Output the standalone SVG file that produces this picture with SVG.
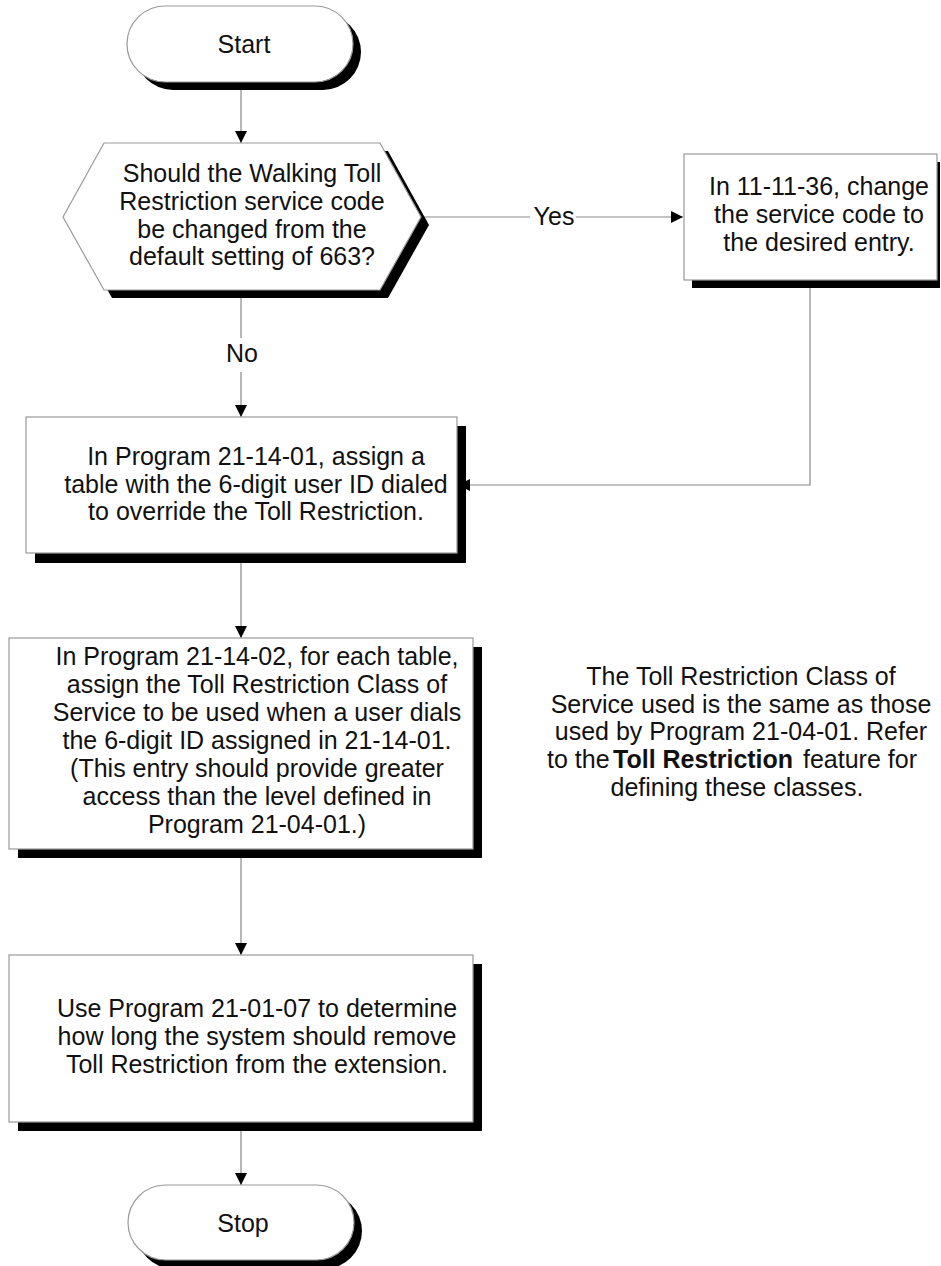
<svg xmlns="http://www.w3.org/2000/svg" width="941" height="1266" viewBox="0 0 941 1266">
<defs>
<style>
.t{font-family:"Liberation Sans",Arial,Helvetica,sans-serif;font-size:25px;fill:#111;}
.m{text-anchor:middle;}
.b{font-weight:bold;}
.sh{fill:#000;stroke:none;}
.nd{fill:#fff;stroke:#999;stroke-width:1.2;}
.cn{fill:none;stroke:#888;stroke-width:1.2;}
</style>
<marker id="ah" markerUnits="userSpaceOnUse" markerWidth="14" markerHeight="12" refX="12" refY="6" orient="auto">
<path d="M0,0 L12,6 L0,12 Z" fill="#000"/>
</marker>
</defs>
<rect width="941" height="1266" fill="#fff"/>

<g id="connectors">
<line class="cn" x1="241" y1="82" x2="241" y2="143" marker-end="url(#ah)"/>
<line class="cn" x1="421" y1="217" x2="530" y2="217"/>
<line class="cn" x1="576" y1="217" x2="683" y2="217" marker-end="url(#ah)"/>
<line class="cn" x1="241" y1="290" x2="241" y2="338"/>
<line class="cn" x1="241" y1="372" x2="241" y2="417" marker-end="url(#ah)"/>
<polyline class="cn" points="810,280 810,485 458,485" marker-end="url(#ah)"/>
<line class="cn" x1="241" y1="553" x2="241" y2="638" marker-end="url(#ah)"/>
<line class="cn" x1="241" y1="849" x2="241" y2="955" marker-end="url(#ah)"/>
<line class="cn" x1="241" y1="1122" x2="241" y2="1185" marker-end="url(#ah)"/>
<text class="t m" x="554" y="225">Yes</text>
<text class="t m" x="242" y="362">No</text>
</g>

<g id="start">
<rect class="sh" x="135" y="14" width="226" height="76" rx="38"/>
<rect class="nd" x="127" y="6" width="226" height="76" rx="38"/>
<text class="t m" x="244" y="53">Start</text>
</g>

<g id="decision">
<polygon class="sh" points="112,151 388,151 429,225 388,298 112,298 71,225"/>
<polygon class="nd" points="104,143 380,143 421,217 380,290 104,290 63,217"/>
<text class="t m" x="252" y="182">Should the Walking Toll</text>
<text class="t m" x="252" y="210">Restriction service code</text>
<text class="t m" x="252" y="238">be changed from the</text>
<text class="t m" x="252" y="265">default setting of 663?</text>
</g>

<g id="change-code">
<rect class="sh" x="692" y="162" width="248" height="126"/>
<rect class="nd" x="684" y="154" width="253" height="126"/>
<text class="t m" x="819" y="195">In 11-11-36, change</text>
<text class="t m" x="819" y="223">the service code to</text>
<text class="t m" x="819" y="251">the desired entry.</text>
</g>

<g id="assign-table">
<rect class="sh" x="35" y="426" width="431" height="137"/>
<rect class="nd" x="26" y="417" width="431" height="136"/>
<text class="t m" x="256" y="465">In Program 21-14-01, assign a</text>
<text class="t m" x="256" y="493">table with the 6-digit user ID dialed</text>
<text class="t m" x="256" y="520">to override the Toll Restriction.</text>
</g>

<g id="assign-class">
<rect class="sh" x="18" y="647" width="464" height="211"/>
<rect class="nd" x="9" y="638" width="464" height="211"/>
<text class="t m" x="257" y="665">In Program 21-14-02, for each table,</text>
<text class="t m" x="257" y="693">assign the Toll Restriction Class of</text>
<text class="t m" x="257" y="721">Service to be used when a user dials</text>
<text class="t m" x="257" y="749">the 6-digit ID assigned in 21-14-01.</text>
<text class="t m" x="257" y="777">(This entry should provide greater</text>
<text class="t m" x="257" y="805">access than the level defined in</text>
<text class="t m" x="257" y="833">Program 21-04-01.)</text>
</g>

<g id="duration">
<rect class="sh" x="18" y="964" width="464" height="167"/>
<rect class="nd" x="9" y="955" width="464" height="167"/>
<text class="t m" x="257" y="1017">Use Program 21-01-07 to determine</text>
<text class="t m" x="257" y="1045">how long the system should remove</text>
<text class="t m" x="257" y="1073">Toll Restriction from the extension.</text>
</g>

<g id="stop">
<rect class="sh" x="136" y="1193" width="226" height="76" rx="38"/>
<rect class="nd" x="128" y="1185" width="226" height="75" rx="37.5"/>
<text class="t m" x="243" y="1232">Stop</text>
</g>

<g id="note">
<text class="t m" x="741" y="685">The Toll Restriction Class of</text>
<text class="t m" x="741" y="713">Service used is the same as those</text>
<text class="t m" x="741" y="740">used by Program 21-04-01. Refer</text>
<text class="t" y="768"><tspan x="547">to the</tspan><tspan x="613" class="b">Toll Restriction</tspan><tspan x="803">feature for</tspan></text>
<text class="t m" x="737" y="796">defining these classes.</text>
</g>
</svg>
